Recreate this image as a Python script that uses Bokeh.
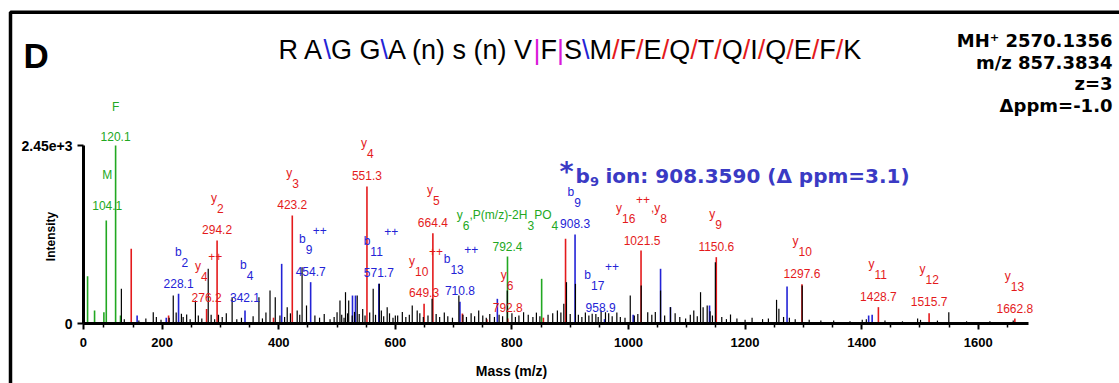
from bokeh.plotting import figure
from bokeh.models import Range1d, FixedTicker, ColumnDataSource, Label, BoxAnnotation
from bokeh.core.properties import value
from bokeh.embed import file_html
from bokeh.resources import INLINE

# ---------------- data ----------------
green_mz = [72.0, 84.0, 100.0, 104.1, 120.1, 128.5, 792.4, 851.0]
green_int = [650, 180, 155, 1418, 2450, 110, 922, 615]

red_mz = [146.9, 211.0, 276.2, 294.2, 391.0, 423.2, 551.3, 649.3, 664.4, 715.0,
          757.0, 792.8, 854.0, 892.0, 1021.5, 1150.6, 1297.6, 1428.7, 1515.7, 1662.8]
red_int = [1028, 110, 200, 1142, 80, 1486, 1886, 271, 1243, 137,
           60, 70, 80, 1166, 1005, 913, 540, 225, 142, 69]

blue_mz = [157.0, 207.0, 228.1, 342.1, 405.0, 454.7, 526.5, 531.6, 571.7, 710.8,
           775.0, 908.3, 958.9, 1008.0, 1055.0, 1072.0, 1139.0, 1272.0, 1412.0, 1418.0]
blue_int = [110, 80, 408, 180, 821, 569, 385, 385, 546, 300,
            340, 1225, 60, 120, 753, 225, 248, 509, 110, 120]

black_mz = [130, 135, 160, 172, 184.7, 190, 198, 212, 219, 224, 233, 236, 242, 248, 257, 262, 268,
            279, 284, 290, 296.6, 303, 310, 320, 328, 336, 356, 366, 372, 378, 385, 394, 402, 410,
            414.5, 420, 431.6, 436, 440, 447.6, 462, 470, 478, 488, 495, 500, 505, 508, 512, 514.5,
            518, 520, 526, 530, 534.6, 538, 544, 548, 556, 562, 566, 572.5, 576, 580, 586, 590, 596,
            600, 604, 612, 618, 624, 629, 637.5, 642, 648, 656, 663, 670, 676, 684, 690, 698, 709,
            716, 722, 730, 736, 743, 750, 756, 762, 770, 778, 784, 792, 800, 806, 812, 820, 828, 836,
            842, 848, 862, 870, 878, 884, 889, 893.6, 900, 909, 914, 920, 926, 932, 937.7, 944, 948,
            953, 960.5, 966, 972, 980, 986, 994, 1003, 1010, 1016, 1021.8, 1033, 1040, 1046, 1055,
            1062, 1072, 1080, 1088, 1098, 1106, 1112, 1118, 1123.6, 1128, 1135, 1140, 1144, 1149,
            1160, 1168, 1175, 1186, 1200, 1212, 1230, 1240, 1254, 1258, 1266, 1276, 1286, 1298, 1310,
            1330, 1352, 1380, 1401, 1408, 1440, 1470, 1496, 1501, 1530, 1549.5, 1580, 1620, 1660]
black_int = [477, 60, 40, 70, 155, 90, 50, 80, 385, 150, 133, 90, 124, 60, 316, 110, 70,
             752, 120, 60, 120, 90, 140, 362, 60, 80, 100, 362, 70, 150, 454, 362, 110, 90,
             225, 140, 179, 120, 775, 248, 110, 80, 130, 60, 90, 156, 316, 120, 80, 431,
             140, 316, 110, 160, 385, 130, 200, 110, 150, 477, 120, 546, 180, 100, 225, 140, 80,
             110, 110, 160, 90, 120, 248, 179, 140, 90, 110, 339, 130, 90, 150, 100, 80, 385,
             120, 90, 140, 100, 179, 110, 80, 130, 90, 120, 100, 454, 140, 90, 110, 155, 120, 90,
             150, 100, 120, 140, 180, 150, 271, 569, 130, 546, 120, 90, 150, 110, 133, 130, 90,
             179, 155, 140, 100, 150, 90, 80, 385, 110, 130, 523, 155, 120, 160, 454,
             110, 225, 140, 90, 70, 120, 180, 100, 431, 225, 248, 170, 110, 844,
             90, 60, 124, 70, 50, 80, 60, 70, 326, 202, 90, 80, 60, 523, 50,
             40, 40, 30, 50, 60, 40, 30, 70, 50, 40, 155, 30, 30, 40]

# annotated fragment ions
ann_series = ["green", "green", "red", "red", "red", "blue", "red", "blue", "blue", "blue", "red", "red",
              "blue", "red", "green", "blue", "blue", "red", "red", "red", "red", "red", "red"]
ann_mz = [120.1, 104.1, 294.2, 423.2, 551.3, 228.1, 276.2, 342.1, 454.7, 571.7, 664.4, 649.3,
          710.8, 792.8, 792.4, 908.3, 958.9, 1021.5, 1150.6, 1297.6, 1428.7, 1515.7, 1662.8]
ann_ion = ["F", "M", "y", "y", "y", "b", "y", "b", "b", "b", "y", "y",
           "b", "y", "y", "b", "b", "y", "y", "y", "y", "y", "y"]
ann_sub = ["", "", "2", "3", "4", "2", "4", "4", "9", "11", "5", "10",
           "13", "6", "6", "9", "17", "16", "9", "10", "11", "12", "13"]
ann_sup = ["", "", "", "", "", "", "++", "", "++", "++", "", "++",
           "++", "", "", "", "++", "++", "", "", "", "", ""]
ann_tail = {14: [(",P(m/z)-2H", False), ("3", True), ("PO", False), ("4", True)],
            17: [(",y", False), ("8", True)]}

title_text = "R A\\G G\\A (n) s (n) V|F|S\\M/F/E/Q/T/Q/I/Q/E/F/K"
info_lines = ["MH\u207a 2570.1356", "m/z 857.3834", "z=3", "\u0394ppm=-1.0"]
x_ticks = [65, 200, 400, 600, 800, 1000, 1200, 1400, 1600]
x_tick_labels = {65: "0"}
y_ticks = [0, 2450]
y_tick_labels = {2450: "2.45e+3"}

# ---------------- styles / layout ----------------
RED, BLUE, GREEN, MAGENTA = "#e41a1c", "#2323d6", "#22a822", "#d919d9"
HEAD_BLUE = "#3a3ac4"
COL = {"red": RED, "blue": BLUE, "green": GREEN}
SERIES = {"red": (red_mz, red_int), "blue": (blue_mz, blue_int), "green": (green_mz, green_int)}

W, H = 1119, 383
X0_PX, PX_PER_MZ = 45.1, 0.5829          # pixel of m/z 0, pixels per m/z unit
BASE_PX, INT_PER_PX = 323.0, 2450 / 178.0  # pixel of intensity 0, intensity per pixel
X_START, X_AXIS_END = 65, 1686

LBL_FONT, LBL_SIZE = "Liberation Sans", 12

ann_dx = [0, 1, 0, 0, 0, 0, 0, 0, 0, 0, 0, 0, 0, 0, 0, 0, -4, 1, 0, 0, 0, 0, 0]
ann_dy = [-9, -15, -11, -11, -11, -10, -11, -13, -11, -11, -11, -11,
          -11, -11, -10, -11, -12, -10, -11, -11, -11, -12, -10]
ann_split = [0, 0, 0, 0, 0, 3, -5.5, 1.7, -5, -8.5, 0, -9,
             -9.5, -1, -44.7, -0.8, -9.5, -20, -1, -3.5, -4, -3.5, -4]

ARIAL = {' ': 278, 'A': 667, 'G': 778, 'R': 722, '\\': 278, '|': 260, 'V': 667, 'F': 611, 'S': 667,
         'M': 833, '/': 278, 'E': 667, 'Q': 778, 'T': 611, 'I': 278, 'K': 667, '(': 333, ')': 333,
         'n': 556, 's': 500, 'y': 500, 'b': 556, ',': 278, 'P': 667, 'm': 833, 'z': 500, '-': 333,
         'H': 722, 'O': 778, '+': 584, '.': 278}
for d in "0123456789":
    ARIAL[d] = 556


def tw(s, size):
    return sum(ARIAL.get(c, 556) for c in s) * size / 1000.0


p = figure(width=W, height=H,
           x_range=Range1d(-X0_PX / PX_PER_MZ, (W - X0_PX) / PX_PER_MZ),
           y_range=Range1d(-(H - BASE_PX) * INT_PER_PX, BASE_PX * INT_PER_PX),
           output_backend="svg", toolbar_location=None,
           min_border_left=0, min_border_right=0, min_border_top=0, min_border_bottom=0)
p.grid.visible = False
p.outline_line_color = None
p.background_fill_color = "white"
p.border_fill_color = "white"

# axes (kept in their side panels, pinned to the data origin)
xa = p.xaxis[0]
xa.fixed_location = 0
xa.ticker = FixedTicker(ticks=x_ticks, minor_ticks=[m for m in range(100, 1700, 50) if m % 200])
xa.major_label_overrides = x_tick_labels
xa.bounds = (X_START, X_AXIS_END)
xa.axis_line_width = 3
xa.major_tick_line_width = 2
xa.minor_tick_line_width = 1.5
xa.major_tick_in = 0
xa.major_tick_out = 6
xa.minor_tick_in = 0
xa.minor_tick_out = 4
xa.major_label_standoff = 8
xa.major_label_text_font = "Liberation Sans"
xa.major_label_text_font_style = "bold"
xa.major_label_text_font_size = "13px"
xa.major_label_text_color = "black"

ya = p.yaxis[0]
ya.fixed_location = X_START
ya.ticker = FixedTicker(ticks=y_ticks, minor_ticks=[])
ya.major_label_overrides = y_tick_labels
ya.bounds = (0, 2450)
ya.axis_line_width = 3
ya.major_tick_line_width = 2
ya.major_tick_in = 0
ya.major_tick_out = 6
ya.minor_tick_out = 0
ya.major_label_standoff = 5
ya.major_label_text_font = "Liberation Sans"
ya.major_label_text_font_style = "bold"
ya.major_label_text_font_size = "14px"
ya.major_label_text_color = "black"


# peaks
def peaks(mz, inten, color, width):
    src = ColumnDataSource(dict(x=mz, top=inten, base=[0] * len(mz)))
    p.segment(x0="x", y0="base", x1="x", y1="top", source=src, line_color=color, line_width=width)


peaks(green_mz, green_int, GREEN, 1.6)
peaks(red_mz, red_int, RED, 1.6)
peaks(blue_mz, blue_int, BLUE, 1.6)
peaks(black_mz, black_int, "black", 1.2)


# peak labels
def height_of(series, mz):
    xs, ys = SERIES[series]
    k = min(range(len(xs)), key=lambda j: abs(xs[j] - mz))
    return ys[k]


rows = {a: dict(x=[], y=[], text=[], xo=[], yo=[], color=[]) for a in ("left", "right", "center")}


def add(align, x, y, text, xo, yo, color):
    r = rows[align]
    r["x"].append(x); r["y"].append(y); r["text"].append(text)
    r["xo"].append(xo); r["yo"].append(yo); r["color"].append(color)


for i, mz in enumerate(ann_mz):
    s = ann_series[i]
    col = COL[s]
    hy = height_of(s, mz)
    vdx, vdy = ann_dx[i], ann_dy[i]
    add("center", mz, hy, f"{mz:.1f}", vdx, vdy, col)
    if ann_sub[i] == "":
        add("center", mz, hy, ann_ion[i], vdx, vdy - 30, col)
        continue
    split = vdx + ann_split[i]
    add("right", mz, hy, ann_ion[i], split, vdy - 32, col)
    add("left", mz, hy, ann_sub[i], split, vdy - 21.5, col)
    xcur = split + tw(ann_sub[i], LBL_SIZE)
    if ann_sup[i]:
        add("left", mz, hy, ann_sup[i], xcur + 0.5, vdy - 41, col)
        xcur = xcur + 0.5 + tw(ann_sup[i], LBL_SIZE) + 1
    for t, is_sub in ann_tail.get(i, []):
        add("left", mz, hy, t, xcur, vdy - (21.5 if is_sub else 32), col)
        xcur += tw(t, LBL_SIZE)

for align, r in rows.items():
    src = ColumnDataSource(r)
    p.text(x="x", y="y", text="text", x_offset="xo", y_offset="yo", text_color="color", source=src,
           text_align=align, text_baseline="middle",
           text_font=value(LBL_FONT), text_font_size=value(f"{LBL_SIZE}px"))


# header annotations: page pixel (cx, cy) -> frame-relative screen units
def lab(text, cx, cy, font, size, style="normal", color="black", align="left",
        baseline="alphabetic", angle=0):
    p.add_layout(Label(x=cx, y=H - cy, x_units="screen", y_units="screen", text=text,
                       text_font=font, text_font_size=size, text_font_style=style,
                       text_color=color, text_align=align, text_baseline=baseline,
                       angle=angle, angle_units="deg"))


lab("D", 23, 55, "Liberation Sans", "35px", "bold")

# sequence title with coloured cleavage marks
sep_col = {"\\": BLUE, "|": MAGENTA, "/": RED}
TSIZE = 27
tx, run = 278.0, ""
run_x = tx
for ch in title_text:
    if ch in sep_col:
        if run:
            lab(run, run_x, 49.7, "Liberation Sans", f"{TSIZE}px")
        lab(ch, tx, 49.7, "Liberation Sans", f"{TSIZE}px", color=sep_col[ch])
        tx += tw(ch, TSIZE)
        run, run_x = "", tx
    else:
        run += ch
        tx += tw(ch, TSIZE)
if run:
    lab(run, run_x, 49.7, "Liberation Sans", f"{TSIZE}px")

for line, by in zip(info_lines, [39.9, 61.6, 83.3, 104.9]):
    lab(line, 1112, by, "DejaVu Sans", "18px", "bold", align="right")

lab("*", 559, 171, "DejaVu Sans", "27px", "bold", HEAD_BLUE)
lab("b", 575, 175.3, "DejaVu Sans", "20px", "bold", HEAD_BLUE)
lab("9", 589.5, 180.8, "DejaVu Sans", "13px", "bold", HEAD_BLUE)
lab("ion: 908.3590 (\u0394 ppm=3.1)", 605, 175.3, "DejaVu Sans", "20px", "bold", HEAD_BLUE)

lab("Intensity", 50, 236, "Liberation Sans", "12px", "bold", align="center", baseline="middle", angle=90)
lab("Mass (m/z)", 511, 370, "Liberation Sans", "14px", "bold", align="center", baseline="middle")

# panel frame (left and top edges visible in the picture)
p.add_layout(BoxAnnotation(left=10, right=W + 30, top=H - 11.7, bottom=-30,
                           left_units="screen", right_units="screen",
                           top_units="screen", bottom_units="screen",
                           fill_color=None, line_color="black", line_alpha=1.0, line_width=3.5))

open("out.html", "w").write(file_html(p, INLINE))
